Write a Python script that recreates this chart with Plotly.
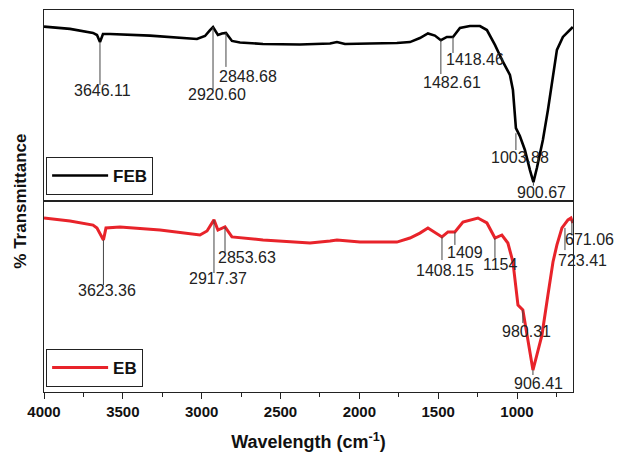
import plotly.graph_objects as go
from plotly.subplots import make_subplots

# ---- data (wavenumber cm-1, % transmittance, arbitrary scale) ----
feb_wn = [4000, 3835, 3689, 3664, 3645, 3626, 3581, 3328, 3030, 2979, 2947, 2928, 2897, 2871,
          2846, 2808, 2757, 2611, 2377, 2186, 2142, 2091, 1933, 1762, 1679, 1616, 1565, 1521,
          1483, 1445, 1406, 1362, 1299, 1235, 1191, 1140, 1089, 1045, 1026, 1007, 982, 950,
          918, 896, 874, 836, 804, 779, 747, 709, 677, 646]
feb_t = [91.3, 90.1, 88.0, 86.9, 83.2, 87.4, 87.4, 86.6, 84.8, 86.4, 89.5, 91.1, 86.9, 87.7,
         88.0, 83.8, 83.0, 82.2, 81.9, 82.5, 83.2, 82.2, 82.5, 82.7, 83.2, 85.3, 87.7, 86.6,
         84.2, 85.9, 85.9, 90.6, 91.6, 91.6, 89.5, 81.7, 72.8, 66.0, 58.1, 38.2, 34.0, 26.7,
         16.2, 9.9, 17.3, 31.9, 47.6, 61.8, 79.1, 85.9, 88.5, 91.1]

eb_wn = [4000, 3835, 3689, 3664, 3623, 3607, 3518, 3264, 3011, 2966, 2922, 2897, 2852, 2808,
         2611, 2313, 2186, 2142, 1996, 1762, 1679, 1616, 1565, 1514, 1476, 1438, 1394, 1343,
         1248, 1191, 1140, 1096, 1058, 1026, 994, 963, 931, 899, 874, 842, 804, 772, 747,
         715, 677, 658, 646]
eb_t = [91.1, 89.5, 87.4, 85.9, 79.6, 85.9, 86.4, 84.8, 82.2, 84.3, 90.1, 84.8, 86.4, 81.2,
        79.6, 78.0, 79.1, 79.6, 78.5, 78.5, 80.6, 83.2, 85.9, 83.2, 81.2, 83.8, 83.8, 89.0,
        91.1, 88.5, 80.6, 82.2, 78.0, 68.1, 45.5, 42.9, 28.3, 11.5, 19.4, 29.8, 50.8, 68.1,
        77.0, 85.9, 90.1, 91.1, 88.5]

# peak labels: text, leader-line x, line top, line bottom, label x, label y
feb_labels = ["3646.11", "2920.60", "2848.68", "1482.61", "1418.46", "1003.88", "900.67"]
feb_line_x = [3645, 2928, 2846, 1483, 1406, 1007, 896]
feb_line_top = [83.2, 91.1, 88.0, 84.2, 85.9, 35.5, 9.9]
feb_line_bot = [60.7, 58.6, 70.2, 66.5, 77.5, 26.7, 8.0]
feb_lab_x = [3626, 2903, 2706, 1413, 1267, 982, 842]
feb_lab_y = [57.6, 56.0, 65.4, 62.3, 74.3, 23.0, 4.7]

eb_labels = ["3623.36", "2917.37", "2853.63", "1408.15", "1409", "1154", "980.31", "906.41"]
eb_line_x = [3623, 2922, 2852, 1476, 1394, 1140, 963, 899]
eb_line_top = [79.6, 90.1, 86.4, 81.2, 83.8, 80.6, 42.9, 11.5]
eb_line_bot = [56.0, 62.3, 73.3, 69.1, 77.0, 70.2, 36.1, 8.9]
eb_lab_x = [3601, 2897, 2713, 1457, 1330, 1108, 937, 861]
eb_lab_y = [52.9, 59.2, 70.2, 63.4, 73.3, 66.5, 31.9, 4.2]

# labels at the right edge (text starts at the leader line and runs past the frame)
edge_labels = ["723.41", "671.06"]
edge_line_x = [696, 652]
edge_line_top = [85.9, 90.1]
edge_line_bot = [74.3, 82.2]
edge_lab_y = [69.1, 79.6]

x_ticks = [4000, 3500, 3000, 2500, 2000, 1500, 1000]

FONT = "Arial, Liberation Sans, sans-serif"
LABEL_SIZE = 16

fig = make_subplots(rows=2, cols=1, shared_xaxes=True, vertical_spacing=0)

fig.add_trace(go.Scatter(x=feb_wn, y=feb_t, mode="lines", name="<b>FEB</b>",
                         line=dict(color="#000000", width=2.6), legend="legend"), row=1, col=1)
fig.add_trace(go.Scatter(x=eb_wn, y=eb_t, mode="lines", name="<b>EB</b>",
                         line=dict(color="#e8232a", width=3), legend="legend2"), row=2, col=1)


def leaders(xs, tops, bots):
    lx, ly = [], []
    for x, t, b in zip(xs, tops, bots):
        lx += [x, x, None]
        ly += [t, b, None]
    return lx, ly


for row, (xs, tops, bots) in enumerate([(feb_line_x, feb_line_top, feb_line_bot),
                                         (eb_line_x + edge_line_x, eb_line_top + edge_line_top,
                                          eb_line_bot + edge_line_bot)], start=1):
    lx, ly = leaders(xs, tops, bots)
    fig.add_trace(go.Scatter(x=lx, y=ly, mode="lines", showlegend=False, hoverinfo="skip",
                             line=dict(color="#444444", width=1)), row=row, col=1)

for labels, lxs, lys, yref in [(feb_labels, feb_lab_x, feb_lab_y, "y"),
                               (eb_labels, eb_lab_x, eb_lab_y, "y2")]:
    for txt, x, y in zip(labels, lxs, lys):
        fig.add_annotation(x=x, y=y, xref="x", yref=yref, text=txt, showarrow=False,
                           font=dict(family=FONT, size=LABEL_SIZE, color="#222222"))

for txt, x, y in zip(edge_labels, edge_line_x, edge_lab_y):
    fig.add_annotation(x=x, y=y, xref="x", yref="y2", text=txt, showarrow=False,
                       xanchor="left", xshift=-8, borderpad=0,
                       font=dict(family=FONT, size=LABEL_SIZE, color="#222222"))

fig.add_annotation(x=-0.046, y=0.5, xref="paper", yref="paper", text="<b>% Transmittance</b>",
                   textangle=-90, showarrow=False, xanchor="center", yanchor="middle",
                   borderpad=0,
                   font=dict(family=FONT, size=17, color="#111111"))

axis_common = dict(showline=True, linecolor="#222222", linewidth=1.2, mirror=True,
                   showgrid=False, zeroline=False)
fig.update_xaxes(range=[4000, 645], **axis_common)
fig.update_xaxes(showticklabels=False, ticks="", row=1, col=1)
fig.update_xaxes(tickmode="array", tickvals=x_ticks, ticktext=[f"<b>{v}</b>" for v in x_ticks],
                 ticks="outside", ticklen=6, tickcolor="#222222",
                 minor=dict(dtick=250, ticks="outside", ticklen=4, tickcolor="#222222"),
                 tickfont=dict(family=FONT, size=15, color="#111111"),
                 title=dict(text="<b>Wavelength (cm<sup>-1</sup>)</b>", standoff=16,
                            font=dict(family=FONT, size=18, color="#111111")),
                 row=2, col=1)
fig.update_yaxes(range=[0, 100], showticklabels=False, ticks="", **axis_common)

legend_common = dict(bgcolor="white", bordercolor="#222222", borderwidth=1,
                     font=dict(family=FONT, size=17, color="#111111"),
                     xanchor="left", yanchor="bottom", itemwidth=56,
                     tracegroupgap=0)
# figure is 8px smaller than the window on each side to absorb the page's body margin
fig.update_layout(
    width=614, height=451,
    margin=dict(l=36, r=49, t=2, b=67),
    paper_bgcolor="white", plot_bgcolor="white",
    legend=dict(x=0.004, y=0.516, **legend_common),
    legend2=dict(x=0.004, y=0.013, **legend_common),
    showlegend=True,
)

fig.write_html("out.html")
